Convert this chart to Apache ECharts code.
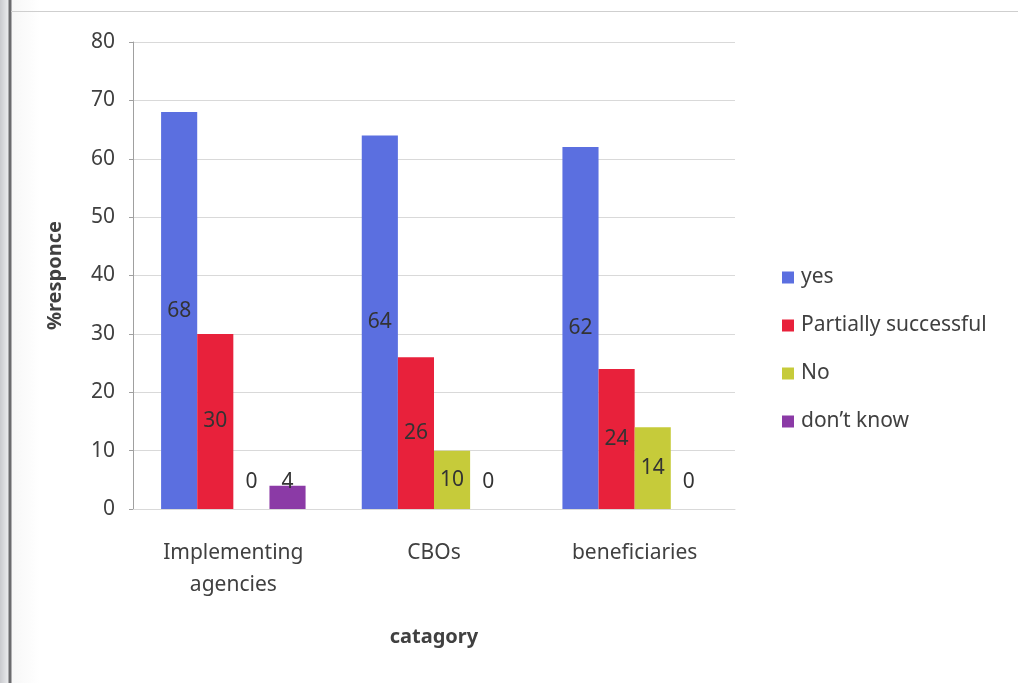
<!DOCTYPE html>
<html><head><meta charset="utf-8">
<script src="https://cdn.jsdelivr.net/npm/echarts@6/dist/echarts.min.js"></script>
<style>
html,body{margin:0;padding:0;background:#d8d9dc;}
#frame{position:absolute;left:0;top:0;width:1018px;height:683px;background:linear-gradient(to right,#c9cace 0px,#e9eaec 8px,#6b6b6e 9px,#6b6b6e 11px,#f7f7f7 12px,#ffffff 40px);}
#top{position:absolute;left:11px;top:11px;width:1007px;height:1px;background:#cfcfcf;}
#chart{position:absolute;left:0;top:0;width:1018px;height:683px;}
</style>
</head><body>
<div id="frame"></div><div id="top"></div>
<div id="chart"></div>
<script>
const categories = ['Implementing\nagencies', 'CBOs', 'beneficiaries'];
const seriesNames = ['yes', 'Partially successful', 'No', 'don\u2019t know'];
const yesVals = [68, 64, 62];
const partialVals = [30, 26, 24];
const noVals = [0, 10, 14];
const dontKnowVals = [4, 0, 0];
const colors = ['#5b6fe0', '#e8213b', '#c6cb3a', '#8b3aa6'];
const font = '"Noto Sans", sans-serif';

function mkData(vals) {
  return vals.map(v => v < 10
    ? { value: v, label: { position: 'insideBottom', distance: 16 } }
    : { value: v });
}
const allVals = [yesVals, partialVals, noVals, dontKnowVals];
const chart = echarts.init(document.getElementById('chart'), null, { renderer: 'canvas' });
chart.setOption({
  backgroundColor: 'transparent',
  animation: false,
  grid: { left: 133, right: 283, top: 42, bottom: 174 },
  legend: {
    orient: 'vertical', left: 777, top: 262,
    itemWidth: 12, itemHeight: 12, itemGap: 27,
    icon: 'rect',
    textStyle: { fontFamily: font, fontSize: 21, color: '#404040', padding: [0, 0, 0, 2] },
    data: seriesNames
  },
  xAxis: {
    type: 'category', data: categories,
    name: 'catagory', nameLocation: 'middle', nameGap: 118,
    nameTextStyle: { fontFamily: font, fontSize: 20, fontWeight: 'bold', color: '#404040' },
    axisLine: { lineStyle: { color: '#d9d9d9' } },
    axisTick: { show: false },
    axisLabel: { fontFamily: font, fontSize: 21, color: '#404040', margin: 28, lineHeight: 32 }
  },
  yAxis: {
    type: 'value', min: 0, max: 80, interval: 10,
    name: '%responce', nameLocation: 'middle', nameGap: 68, nameRotate: 90,
    nameTextStyle: { fontFamily: font, fontSize: 20, fontWeight: 'bold', color: '#404040' },
    axisLine: { show: true, lineStyle: { color: '#a0a0a0' } },
    axisTick: { show: true, length: 4, lineStyle: { color: '#a0a0a0' } },
    splitLine: { lineStyle: { color: '#d9d9d9' } },
    axisLabel: { fontFamily: font, fontSize: 21, color: '#404040', margin: 18 }
  },
  series: seriesNames.map((n, i) => ({
    name: n, type: 'bar', data: mkData(allVals[i]),
    barGap: '0%', barCategoryGap: '28%',
    itemStyle: { color: colors[i] },
    label: { show: true, position: 'inside', fontFamily: font, fontSize: 21, color: '#333' }
  }))
});
</script>
</body></html>
